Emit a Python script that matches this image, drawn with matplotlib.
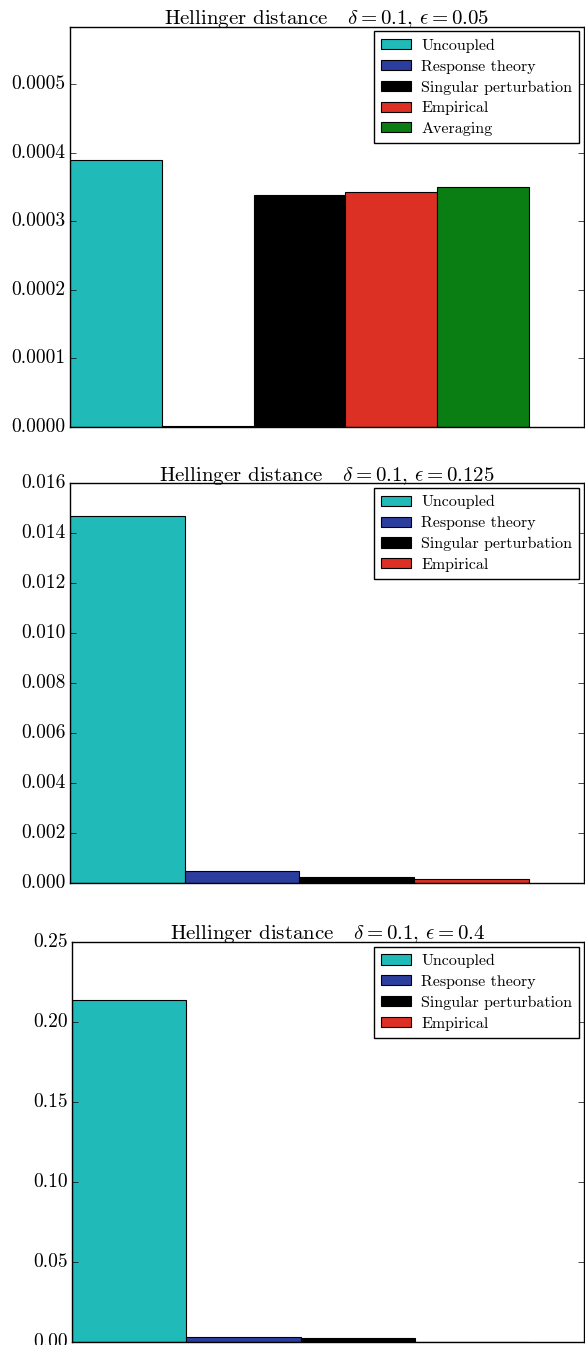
import matplotlib
matplotlib.use('Agg')
import matplotlib.pyplot as plt
import numpy as np

plt.style.use('classic')
plt.rcParams['font.family'] = 'serif'
plt.rcParams['font.serif'] = ['cmr10', 'DejaVu Serif']
plt.rcParams['mathtext.fontset'] = 'cm'
plt.rcParams['axes.formatter.use_mathtext'] = True

methods = ['Uncoupled', 'Response theory', 'Singular perturbation', 'Empirical', 'Averaging']
colors = ['#20bbb9', '#2b3d9f', '#000000', '#dc3024', '#0a7e12']

eps_labels = ['0.05', '0.125', '0.4']
hd_eps005 = [0.000389, 0.0000015, 0.000338, 0.000343, 0.000350]
hd_eps0125 = [0.0147, 0.00049, 0.00025, 0.00018]
hd_eps04 = [0.214, 0.0030, 0.0025, 0.0003]
ymax = [0.000584, 0.016, 0.25]
yticks = [np.arange(0, 0.00051, 0.0001), np.arange(0, 0.0161, 0.002), np.arange(0, 0.251, 0.05)]
tickfmt = ['%.4f', '%.3f', '%.2f']

fig = plt.figure(figsize=(5.85, 13.45), dpi=100)
H = 1345.0
W = 585.0
boxes = [(70, 26.7), (70, 483.3), (72, 942)]

for k, vals in enumerate([hd_eps005, hd_eps0125, hd_eps04]):
    left, top = boxes[k]
    ax = fig.add_axes([left / W, (H - top - 400) / H, (584 - left) / W, 400 / H])
    n = len(vals)
    for i in range(n):
        ax.bar(i, vals[i], width=1.0, align='edge', color=colors[i],
               edgecolor='k', linewidth=0.8, label=methods[i])
    ax.set_xlim(0, n * 1.12)
    ax.set_ylim(0, ymax[k])
    ax.set_xticks([])
    ax.set_yticks(yticks[k])
    ax.set_yticklabels([tickfmt[k] % v for v in yticks[k]], fontsize=14)
    ax.tick_params(axis='y', length=4, pad=3)
    ax.set_title(r'Hellinger distance   $\delta=0.1,\,\epsilon=%s$' % eps_labels[k],
                 fontsize=15, y=1.0, pad=2)
    ax.legend(loc='upper right', fontsize=11.5, borderaxespad=0.3,
              handlelength=1.85, handleheight=0.6, handletextpad=0.65,
              labelspacing=0.42, borderpad=0.45, frameon=True)

fig.savefig('out.png', dpi=100)
